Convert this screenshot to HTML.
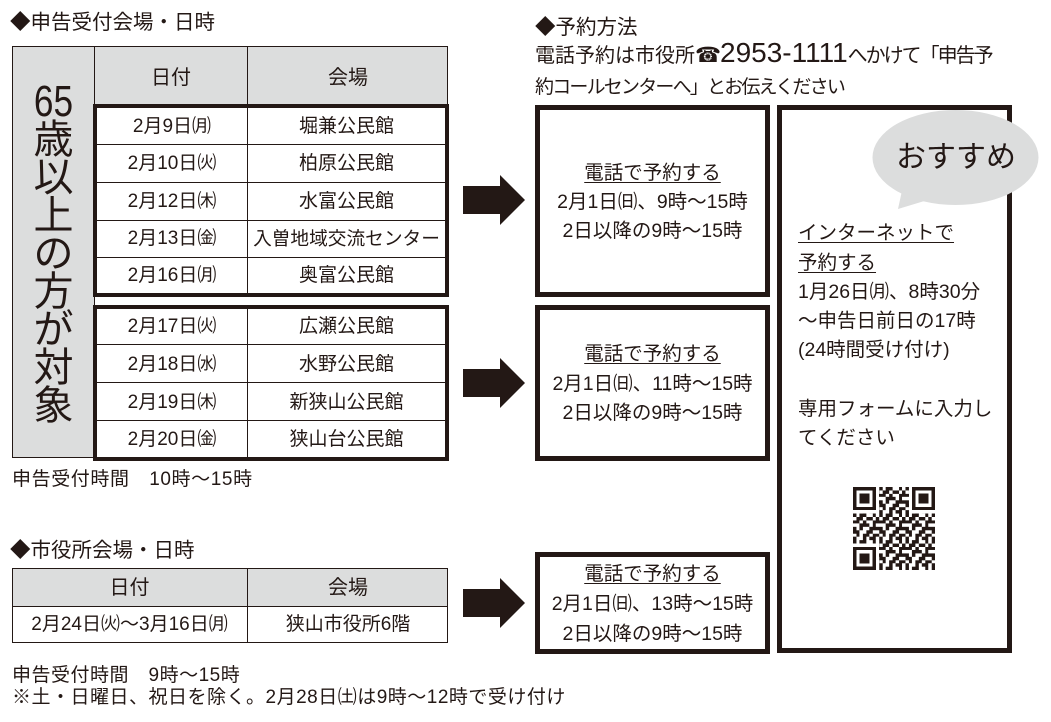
<!DOCTYPE html>
<html><head><meta charset="utf-8">
<style>
*{margin:0;padding:0;box-sizing:border-box}
html,body{width:1051px;height:722px;overflow:hidden;background:#fff}
body{position:relative;font-family:"Liberation Sans","Noto Sans CJK JP",sans-serif;color:#231815}
.a{position:absolute;white-space:nowrap}
.t{position:absolute;white-space:nowrap;line-height:30px;height:30px}
.c{text-align:center}
.box{position:absolute;border:5px solid #231815;background:#fff}
.tb{position:absolute;border:4px solid #231815;background:#fff}
.ln{position:absolute;background:#231815}
.v{position:absolute;left:12px;width:83px;text-align:center;font-size:40px;line-height:38px;height:38px}
.u{text-decoration:underline;text-underline-offset:3px;text-decoration-thickness:1px}
.f19{font-size:19px}
.f195{font-size:19.5px}
.f20{font-size:20px}
.h{font-size:20.5px}
</style></head><body>

<!-- Title 1 -->
<div class="t h" style="left:10px;top:8px">◆申告受付会場・日時</div>

<!-- Left table 1 -->
<div class="a" style="left:12px;top:46px;width:83px;height:412px;background:#dcdddd;border:1px solid #231815"></div>
<div class="a" style="left:95px;top:46px;width:353px;height:59px;background:#dcdddd;border-top:1px solid #231815;border-right:1px solid #231815"></div>
<div class="ln" style="left:247px;top:46px;width:1px;height:58px"></div>
<div class="t c f20" style="left:95px;top:63px;width:152px">日付</div>
<div class="t c f20" style="left:248px;top:63px;width:200px">会場</div>

<div class="tb" style="left:93px;top:104px;width:356px;height:193px"></div>
<div class="ln" style="left:247px;top:108px;width:1px;height:185px"></div>
<div class="ln" style="left:97px;top:144px;width:348px;height:1px"></div>
<div class="ln" style="left:97px;top:182px;width:348px;height:1px"></div>
<div class="ln" style="left:97px;top:220px;width:348px;height:1px"></div>
<div class="ln" style="left:97px;top:257px;width:348px;height:1px"></div>

<div class="tb" style="left:93px;top:305px;width:356px;height:156px"></div>
<div class="ln" style="left:247px;top:309px;width:1px;height:148px"></div>
<div class="ln" style="left:97px;top:344px;width:348px;height:1px"></div>
<div class="ln" style="left:97px;top:382px;width:348px;height:1px"></div>
<div class="ln" style="left:97px;top:420px;width:348px;height:1px"></div>

<!-- rows -->
<div class="t c f19" style="left:97px;width:150px;top:112px">2月9日㈪</div>
<div class="t c f19" style="left:248px;width:197px;top:112px">堀兼公民館</div>
<div class="t c f19" style="left:97px;width:150px;top:149px">2月10日㈫</div>
<div class="t c f19" style="left:248px;width:197px;top:149px">柏原公民館</div>
<div class="t c f19" style="left:97px;width:150px;top:187px">2月12日㈭</div>
<div class="t c f19" style="left:248px;width:197px;top:187px">水富公民館</div>
<div class="t c f19" style="left:97px;width:150px;top:224px">2月13日㈮</div>
<div class="t c f19" style="left:248px;width:197px;top:224px;font-size:18.7px">入曽地域交流センター</div>
<div class="t c f19" style="left:97px;width:150px;top:261px">2月16日㈪</div>
<div class="t c f19" style="left:248px;width:197px;top:261px">奥富公民館</div>

<div class="t c f19" style="left:97px;width:150px;top:312px">2月17日㈫</div>
<div class="t c f19" style="left:248px;width:197px;top:312px">広瀬公民館</div>
<div class="t c f19" style="left:97px;width:150px;top:350px">2月18日㈬</div>
<div class="t c f19" style="left:248px;width:197px;top:350px">水野公民館</div>
<div class="t c f19" style="left:97px;width:150px;top:388px">2月19日㈭</div>
<div class="t c f19" style="left:248px;width:197px;top:388px">新狭山公民館</div>
<div class="t c f19" style="left:97px;width:150px;top:425px">2月20日㈮</div>
<div class="t c f19" style="left:248px;width:197px;top:425px">狭山台公民館</div>

<!-- vertical label -->
<div class="v" style="top:82.5px;font-size:44px;"><span style="display:inline-block;transform:scaleX(.8)">65</span></div>
<div class="v" style="top:121px">歳</div>
<div class="v" style="top:159px">以</div>
<div class="v" style="top:197px">上</div>
<div class="v" style="top:235px">の</div>
<div class="v" style="top:273px">方</div>
<div class="v" style="top:311px">が</div>
<div class="v" style="top:349px">対</div>
<div class="v" style="top:387px">象</div>

<div class="t f19" style="left:12px;top:465px;letter-spacing:0.6px">申告受付時間　10時～15時</div>

<!-- Title 2 & table 2 -->
<div class="t h" style="left:10px;top:536px">◆市役所会場・日時</div>
<div class="a" style="left:12px;top:568px;width:436px;height:75px;border:1px solid #231815;background:#fff"></div>
<div class="a" style="left:13px;top:569px;width:434px;height:37px;background:#dcdddd"></div>
<div class="ln" style="left:12px;top:606px;width:436px;height:1px"></div>
<div class="ln" style="left:247px;top:568px;width:1px;height:75px"></div>
<div class="t c f20" style="left:12px;width:235px;top:573px">日付</div>
<div class="t c f20" style="left:248px;width:200px;top:573px">会場</div>
<div class="t c f19" style="left:12px;width:235px;top:610px">2月24日㈫～3月16日㈪</div>
<div class="t c f19" style="left:248px;width:200px;top:610px">狭山市役所6階</div>

<div class="t f19" style="left:12px;top:661px;letter-spacing:0.5px">申告受付時間　9時～15時</div>
<div class="t f19" style="left:12px;top:683px;letter-spacing:0.5px">※土・日曜日、祝日を除く。2月28日㈯は9時～12時で受け付け</div>

<!-- Right header -->
<div class="t h" style="left:535px;top:13px">◆予約方法</div>
<div class="a" style="left:535px;top:41px;font-size:20px;line-height:30px;height:30px">電話予約は市役所<span style="display:inline-block;width:25px;text-align:center;font-family:'DejaVu Sans',sans-serif;font-size:21px;line-height:0">☎</span><span style="font-size:28px;line-height:0">2953-1111</span><span style="letter-spacing:-2px">へかけて「申告予</span></div>
<div class="t" style="left:535px;top:73px;font-size:19px;letter-spacing:-1.8px">約コールセンターへ」とお伝えください</div>

<!-- phone boxes -->
<div class="box" style="left:535px;top:105px;width:235px;height:192px"></div>
<div class="box" style="left:535px;top:305px;width:235px;height:156px"></div>
<div class="box" style="left:535px;top:552px;width:235px;height:102px"></div>
<!-- internet box -->
<div class="box" style="left:777px;top:105px;width:235px;height:548px"></div>

<svg class="a" style="left:0;top:0" width="1051" height="722" viewBox="0 0 1051 722">
  <g fill="#231815">
    <polygon points="463,186 500,186 500,175 525,200 500,225 500,214 463,214"/>
    <polygon points="463,369 500,369 500,358 525,383 500,408 500,397 463,397"/>
    <polygon points="463,589 500,589 500,578 525,603 500,628 500,617 463,617"/>
  </g>
  <ellipse cx="955.5" cy="157.5" rx="83" ry="47.5" fill="#dcdddd"/>
  <polygon points="903,186 931,199 898,209" fill="#dcdddd"/>
</svg>

<div class="t c" style="left:873px;width:166px;top:143px;font-size:30px;line-height:30px">おすすめ</div>

<!-- phone box text -->
<div class="t c f195" style="left:535px;width:235px;top:158px"><span class="u">電話で予約する</span></div>
<div class="t c f195" style="left:535px;width:235px;top:187px">2月1日㈰、9時～15時</div>
<div class="t c f195" style="left:535px;width:235px;top:216px">2日以降の9時～15時</div>

<div class="t c f195" style="left:535px;width:235px;top:339px"><span class="u">電話で予約する</span></div>
<div class="t c f195" style="left:535px;width:235px;top:369px">2月1日㈰、11時～15時</div>
<div class="t c f195" style="left:535px;width:235px;top:398px">2日以降の9時～15時</div>

<div class="t c f195" style="left:535px;width:235px;top:559px"><span class="u">電話で予約する</span></div>
<div class="t c f195" style="left:535px;width:235px;top:589px">2月1日㈰、13時～15時</div>
<div class="t c f195" style="left:535px;width:235px;top:619px">2日以降の9時～15時</div>

<!-- internet box text -->
<div class="t f195" style="left:798px;top:218px"><span class="u">インターネットで</span></div>
<div class="t f195" style="left:798px;top:248px"><span class="u">予約する</span></div>
<div class="t f195" style="left:798px;top:277px">1月26日㈪、8時30分</div>
<div class="t f195" style="left:798px;top:306px">～申告日前日の17時</div>
<div class="t f195" style="left:798px;top:335px">(24時間受け付け)</div>
<div class="t f195" style="left:798px;top:394px">専用フォームに入力し</div>
<div class="t f195" style="left:798px;top:423px">てください</div>

<!-- QR -->
<svg class="a" style="left:853px;top:487px" width="82" height="83" viewBox="0 0 25 25" preserveAspectRatio="none" shape-rendering="crispEdges">
  <defs>
    <pattern id="p" width="8" height="8" patternUnits="userSpaceOnUse">
      <path fill="#231815" d="M0 0h1v1h-1z M2 0h2v1h-2z M6 0h1v1h-1z M1 1h2v1h-2z M4 1h2v1h-2z M7 1h1v1h-1z M0 2h2v1h-2z M3 2h1v1h-1z M6 2h2v1h-2z M2 3h3v1h-3z M6 3h1v1h-1z M0 4h1v1h-1z M2 4h1v1h-1z M5 4h3v1h-3z M0 5h2v1h-2z M4 5h2v1h-2z M1 6h1v1h-1z M3 6h2v1h-2z M6 6h2v1h-2z M0 7h1v1h-1z M3 7h1v1h-1z M5 7h2v1h-2z"/>
    </pattern>
  </defs>
  <rect width="25" height="25" fill="url(#p)"/>
  <rect width="8" height="8" fill="#fff"/>
  <rect x="17" width="8" height="8" fill="#fff"/>
  <rect y="17" width="8" height="8" fill="#fff"/>
  <g fill="#231815" fill-rule="evenodd">
    <path d="M0 0h7v7h-7z M1 1v5h5v-5z M2 2h3v3h-3z"/>
    <path d="M18 0h7v7h-7z M19 1v5h5v-5z M20 2h3v3h-3z"/>
    <path d="M0 18h7v7h-7z M1 19v5h5v-5z M2 20h3v3h-3z"/>
  </g>
</svg>

</body></html>
